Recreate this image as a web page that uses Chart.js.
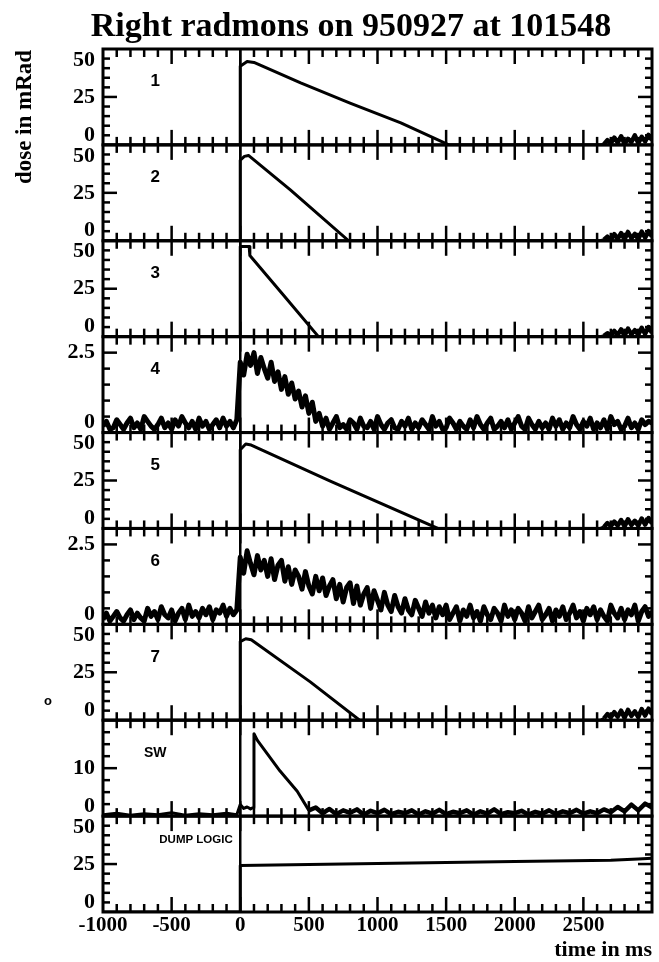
<!DOCTYPE html>
<html>
<head>
<meta charset="utf-8">
<title>Right radmons on 950927 at 101548</title>
<script src="https://cdn.jsdelivr.net/npm/chart.js@4.4.0/dist/chart.umd.min.js"></script>
<style>
  html, body { margin: 0; padding: 0; background: #fff; }
  canvas { display: block; }
</style>
</head>
<body>
<canvas id="radmonChart" width="659" height="962"></canvas>
<script>
const panelNames = ['1', '2', '3', '4', '5', '6', '7', 'SW', 'DUMP LOGIC'];
const panelMax = [50, 50, 50, 3, 50, 3, 50, 20, 50];
const panelMinorStep = [5, 5, 5, 0.5, 5, 0.5, 5, 2.5, 5];
const panelMajorStep = [25, 25, 25, 2.5, 25, 2.5, 25, 10, 25];

const doseTicks = [0, 25, 50];
const smallTicks = [0, 2.5];
const swTicks = [0, 10];
const panelTicks = [doseTicks, doseTicks, doseTicks, smallTicks, doseTicks, smallTicks, doseTicks, swTicks, doseTicks];
const timeTicks = [-1000, -500, 0, 500, 1000, 1500, 2000, 2500];
const triggerTime = 0;
const tailStart = 2650;

// radmons 1, 2, 3, 5, 7 (rampa) + ruído no fim (2650..3000, passo 25)
const p1Time = [-1000, 0, 0, 50, 100, 440, 800, 1170, 1520, 2625];
const p1Dose = [0, 0, 41, 43.5, 43, 32.3, 21.8, 11.5, 0, 0];
const p2Time = [-1000, 0, 0, 30, 60, 365, 790, 2625];
const p2Dose = [0, 0, 42, 44, 44.5, 26.5, 0, 0];
const p3Time = [-1000, 0, 0, 0, 65, 70, 314, 570, 2625];
const p3Dose = [0, 0, 42, 47, 47, 42.3, 21.7, 0, 0];
const p5Time = [-1000, 0, 0, 40, 80, 660, 1440, 2625];
const p5Dose = [0, 0, 41, 44, 43.5, 24.5, 0, 0];
const p7Time = [-1000, 0, 0, 40, 80, 510, 870, 2625];
const p7Dose = [0, 0, 41, 42.5, 42, 20, 0, 0];

const p1Tail = [0.4, 2.5, 0.8, 3.8, 1.2, 4.5, 0.6, 3.2, 1.5, 5, 0.9, 4.2, 1.8, 5.2, 2.5];
const p2Tail = [0.6, 2.2, 0.5, 3.5, 1.0, 4.0, 0.7, 4.6, 1.3, 3.6, 0.8, 4.8, 1.6, 5.0, 2.2];
const p3Tail = [0.5, 1.8, 0.6, 3.0, 0.9, 3.8, 0.5, 4.2, 1.2, 3.4, 1.0, 4.6, 1.5, 5.0, 2.0];
const p5Tail = [0.8, 2.8, 1.2, 3.6, 1.5, 4.4, 1.0, 4.8, 1.8, 4.0, 1.4, 5.2, 2.0, 5.4, 2.6];
const p7Tail = [1.0, 3.2, 1.5, 4.2, 1.8, 5.0, 1.2, 5.4, 2.2, 4.6, 1.6, 5.8, 2.4, 6.0, 3.0];

// radmons 4 e 6 (sinal ruidoso, passo de 25 ms)
const p4Pre = [0.2, 0.35, 0.1, 0.15, 0.4, 0.25, 0.1, 0.3, 0.45, 0.15,
  0.3, 0.1, 0.5, 0.35, 0.2, 0.1, 0.25, 0.45, 0.15, 0.3,
  0.1, 0.4, 0.2, 0.5, 0.3, 0.15, 0.35, 0.1, 0.45, 0.2,
  0.35, 0.1, 0.25, 0.4, 0.15, 0.45, 0.2, 0.35, 0.15, 0.4];
const p4Post = [2.2, 1.8, 2.45, 2.1, 2.5, 1.85, 2.35, 2.0, 1.7, 2.2,
  1.6, 1.9, 1.35, 1.75, 1.2, 1.55, 1.05, 1.3, 0.8, 1.15,
  0.6, 0.95, 0.35, 0.6,
  0.2, 0.45, 0.1, 0.3, 0.5, 0.15, 0.25, 0.1, 0.4, 0.3,
  0.1, 0.45, 0.2, 0.15, 0.35, 0.1, 0.5, 0.25, 0.1, 0.3,
  0.4, 0.15, 0.1, 0.35, 0.2, 0.45, 0.1, 0.3, 0.15, 0.4,
  0.25, 0.1, 0.5, 0.2, 0.35, 0.1, 0.15, 0.45, 0.3, 0.1,
  0.35, 0.2, 0.1, 0.4, 0.15, 0.5, 0.25, 0.1, 0.3, 0.45,
  0.1, 0.2, 0.35, 0.15, 0.4, 0.1, 0.3, 0.5, 0.2, 0.1,
  0.45, 0.25, 0.1, 0.35, 0.15, 0.3, 0.1, 0.45, 0.2, 0.4,
  0.1, 0.3, 0.15, 0.5, 0.25, 0.1, 0.35, 0.2, 0.45, 0.1,
  0.3, 0.15, 0.4, 0.1, 0.5, 0.25, 0.35, 0.1, 0.2, 0.45,
  0.15, 0.3, 0.1, 0.4, 0.25, 0.35, 0.3];
const p6Pre = [0.15, 0.35, 0.1, 0.25, 0.4, 0.2, 0.1, 0.3, 0.45, 0.15,
  0.35, 0.2, 0.1, 0.5, 0.25, 0.4, 0.15, 0.55, 0.3, 0.2,
  0.45, 0.1, 0.35, 0.5, 0.15, 0.6, 0.25, 0.4, 0.2, 0.5,
  0.3, 0.55, 0.15, 0.45, 0.35, 0.6, 0.25, 0.5, 0.3, 0.45];
const p6Post = [2.1, 1.6, 2.3, 1.9, 1.55, 2.15, 1.7, 2.0, 1.5, 2.05,
  1.4, 1.85, 2.0, 1.35, 1.8, 1.25, 1.7, 1.5, 1.1, 1.65,
  1.2, 0.95, 1.5, 1.05,
  1.45, 0.9, 1.2, 1.4, 0.8, 1.25, 0.7, 1.15, 1.3, 0.65,
  1.2, 0.6, 0.95, 1.15, 0.5, 1.05, 0.75, 0.45, 1.0, 0.6,
  0.4, 0.9, 0.55, 0.35,
  0.8, 0.45, 0.3, 0.75, 0.5, 0.25, 0.7, 0.35, 0.6, 0.2, 0.55, 0.3,
  0.6, 0.15, 0.35, 0.55, 0.1, 0.45, 0.25, 0.6, 0.2, 0.4,
  0.1, 0.55, 0.3, 0.15, 0.5, 0.35, 0.1, 0.6, 0.25, 0.45,
  0.15, 0.5, 0.35, 0.1, 0.55, 0.2, 0.4, 0.6, 0.15, 0.3,
  0.5, 0.1, 0.45, 0.25, 0.55, 0.15, 0.35, 0.6, 0.2, 0.4,
  0.1, 0.5, 0.3, 0.55, 0.15, 0.45, 0.25, 0.1, 0.6, 0.35,
  0.2, 0.5, 0.15, 0.45, 0.3, 0.6, 0.1, 0.4, 0.55, 0.25,
  0.4];

// SW: pico em ~100 ms, depois ruído (550..3000, passo 50)
const swTime = [-1000, -900, -800, -700, -600, -500, -400, -300, -200, -100, -25, 0, 25, 50, 75, 95, 100, 125, 290, 415, 500];
const swDose = [0.3, 0.6, 0.2, 0.5, 0.3, 0.7, 0.2, 0.5, 0.3, 0.6, 0.3, 2.4, 1.6, 1.9, 1.5, 1.8, 17.2, 15.8, 9.4, 5.2, 1.2];
const swTail = [1.8, 0.6, 1.5, 0.4, 1.2, 0.7, 1.4, 0.3, 1.1, 0.6,
  1.3, 0.4, 0.9, 0.6, 1.2, 0.3, 1.0, 0.5, 1.3, 0.4,
  0.9, 0.6, 1.2, 0.3, 1.0, 0.5, 1.4, 0.4, 0.8, 0.6,
  1.1, 0.3, 0.9, 0.5, 1.2, 0.4, 1.0, 0.6, 1.3, 0.5,
  1.0, 0.6, 1.4, 0.8, 1.9, 1.0, 2.4, 1.2, 2.6, 1.8];

// DUMP LOGIC
const dumpTime = [-1000, 0, 0, 1000, 2000, 2700, 2900, 3000];
const dumpLevel = [0, 0, 24.3, 25.3, 26.3, 27, 27.6, 28];

// —————— MONTAGEM DAS SÉRIES ——————
function toPoints(times, values) {
  return times.map((t, i) => ({ x: t, y: values[i] }));
}

function gridPoints(start, step, values) {
  return values.map((v, i) => ({ x: start + i * step, y: v }));
}

const seriesData = [
  toPoints(p1Time, p1Dose).concat(gridPoints(tailStart, 25, p1Tail)),
  toPoints(p2Time, p2Dose).concat(gridPoints(tailStart, 25, p2Tail)),
  toPoints(p3Time, p3Dose).concat(gridPoints(tailStart, 25, p3Tail)),
  gridPoints(-1000, 25, p4Pre).concat(gridPoints(0, 25, p4Post)),
  toPoints(p5Time, p5Dose).concat(gridPoints(tailStart, 25, p5Tail)),
  gridPoints(-1000, 25, p6Pre).concat(gridPoints(0, 25, p6Post)),
  toPoints(p7Time, p7Dose).concat(gridPoints(tailStart, 25, p7Tail)),
  toPoints(swTime, swDose).concat(gridPoints(550, 50, swTail)),
  toPoints(dumpTime, dumpLevel)
];

const serif = "'Liberation Serif', 'DejaVu Serif', serif";
const sans = "'Liberation Sans', Arial, sans-serif";

// —————— PLUGIN: molduras, ticks e textos de cada painel ——————
const radmonFrame = {
  id: 'radmonFrame',
  afterDatasetsDraw(chart) {
    const ctx = chart.ctx;
    const area = chart.chartArea;
    const xs = chart.scales.x;

    function line(x1, y1, x2, y2) {
      ctx.beginPath();
      ctx.moveTo(x1, y1);
      ctx.lineTo(x2, y2);
      ctx.stroke();
    }

    ctx.save();
    ctx.strokeStyle = '#000';
    ctx.fillStyle = '#000';

    // linha do disparo (t = 0) atravessa todos os painéis
    const x0 = xs.getPixelForValue(triggerTime);
    ctx.lineWidth = 2.5;
    line(x0, area.top, x0, area.bottom);

    panelMax.forEach((max, i) => {
      const ys = chart.scales['y' + (i + 1)];
      const top = ys.getPixelForValue(max);
      const bottom = ys.getPixelForValue(0);

      ctx.lineWidth = 3;
      ctx.strokeRect(area.left, top, area.right - area.left, bottom - top);

      // ticks do tempo (menores a cada 100 ms, maiores a cada 500 ms)
      ctx.lineWidth = 2.5;
      for (let t = xs.min + 100; t < xs.max; t += 100) {
        const px = xs.getPixelForValue(t);
        const len = t % 500 === 0 ? 15 : 8;
        line(px, top, px, top + len);
        line(px, bottom, px, bottom - len);
      }

      // ticks da dose, esquerda e direita
      const minor = panelMinorStep[i];
      const major = panelMajorStep[i];
      for (let k = 1; k * minor < max; k++) {
        const v = k * minor;
        const py = ys.getPixelForValue(v);
        const ratio = v / major;
        const len = Math.abs(ratio - Math.round(ratio)) < 1e-6 ? 14 : 7;
        line(area.left, py, area.left + len, py);
        line(area.right, py, area.right - len, py);
      }

      // rótulos do eixo y
      ctx.font = 'bold 22px ' + serif;
      ctx.textAlign = 'right';
      ctx.textBaseline = 'middle';
      panelTicks[i].forEach(v => {
        let py = ys.getPixelForValue(v);
        if (v === max) py += 11;
        else if (v === 0) py -= 10;
        ctx.fillText(String(v), area.left - 8, py);
      });

      // nome do painel
      const name = panelNames[i];
      if (name.length > 2) {
        ctx.font = 'bold 11.5px ' + sans;
        ctx.textAlign = 'left';
        ctx.fillText(name, xs.getPixelForValue(-590), top + 24);
      } else {
        ctx.font = (name.length > 1 ? 'bold 14px ' : 'bold 17px ') + sans;
        ctx.textAlign = 'center';
        ctx.fillText(name, xs.getPixelForValue(-620), top + 0.34 * (bottom - top));
      }
    });

    // título e eixo y
    ctx.textAlign = 'center';
    ctx.textBaseline = 'alphabetic';
    ctx.font = 'bold 34px ' + serif;
    ctx.fillText('Right radmons on 950927 at 101548', 351, 36);

    ctx.save();
    ctx.translate(25, 117);
    ctx.rotate(-Math.PI / 2);
    ctx.font = 'bold 23px ' + serif;
    ctx.textBaseline = 'middle';
    ctx.fillText('dose in mRad', 0, 0);
    ctx.restore();

    ctx.font = 'bold 13px ' + sans;
    ctx.textBaseline = 'middle';
    ctx.fillText('o', 48, 701);

    ctx.restore();
  }
};

// —————— ESCALAS ——————
const scales = {
  x: {
    type: 'linear',
    position: 'bottom',
    min: -1000,
    max: 3000,
    grid: { display: false, drawTicks: false },
    border: { display: false },
    ticks: {
      stepSize: 500,
      autoSkip: false,
      maxRotation: 0,
      padding: 3,
      color: '#000',
      font: { family: serif, size: 21, weight: 'bold', lineHeight: 1 },
      callback: v => timeTicks.includes(v) ? String(v) : ''
    },
    title: {
      display: true,
      text: 'time in ms',
      align: 'end',
      color: '#000',
      padding: 0,
      font: { family: serif, size: 22, weight: 'bold', lineHeight: 1 }
    }
  }
};

panelMax.forEach((max, i) => {
  scales['y' + (i + 1)] = {
    type: 'linear',
    position: 'left',
    stack: 'radmons',
    stackWeight: 1,
    weight: panelMax.length - i,
    min: 0,
    max: max,
    display: false
  };
});

// séries ruidosas ficam com traço mais grosso (faixa preta como no original)
const noisy = [3, 5];
const withTail = [0, 1, 2, 4, 6];

// —————— GRÁFICO ——————
const ctx = document.getElementById('radmonChart').getContext('2d');
window.radmonChart = new Chart(ctx, {
  type: 'line',
  data: {
    datasets: seriesData.map((pts, i) => ({
      label: panelNames[i],
      data: pts,
      yAxisID: 'y' + (i + 1),
      borderColor: '#000',
      borderWidth: noisy.includes(i) ? 5 : 3,
      borderJoinStyle: 'round',
      pointRadius: 0,
      fill: false,
      tension: 0,
      segment: {
        // trechos de ruído no fim dos canais ficam mais grossos
        borderWidth: c => ((withTail.includes(i) && c.p0.parsed.x >= tailStart) || (i === 7 && c.p0.parsed.x >= 500)) ? 4.5 : undefined
      }
    }))
  },
  options: {
    responsive: false,
    animation: false,
    devicePixelRatio: 1,
    events: [],
    layout: { padding: { left: 103, right: 7, top: 49, bottom: 1 } },
    plugins: {
      legend: { display: false },
      tooltip: { enabled: false }
    },
    scales: scales
  },
  plugins: [radmonFrame]
});
</script>
</body>
</html>
